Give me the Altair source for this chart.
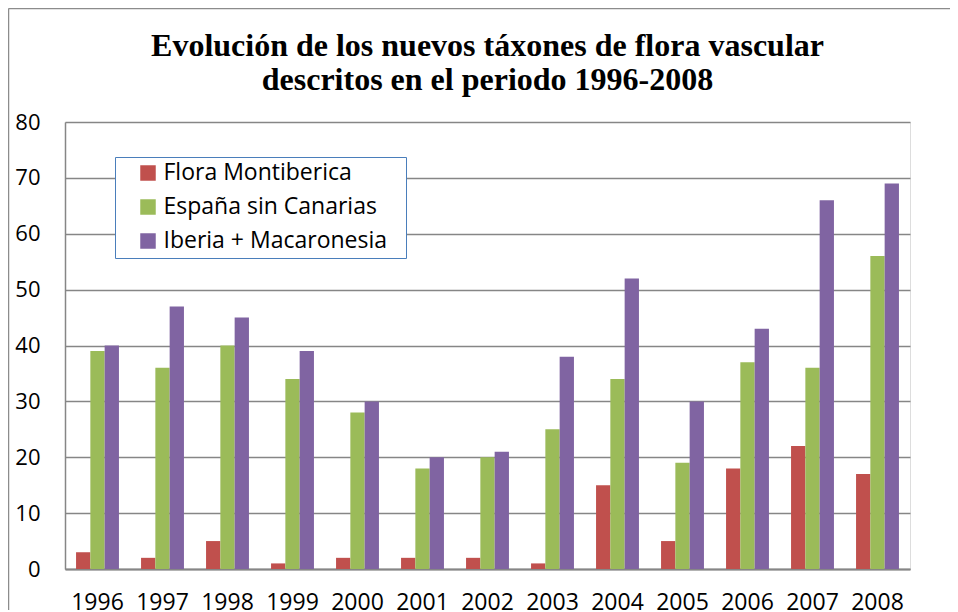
import altair as alt
import pandas as pd

years = ["1996", "1997", "1998", "1999", "2000", "2001", "2002",
         "2003", "2004", "2005", "2006", "2007", "2008"]
series = ["Flora Montiberica", "España sin Canarias", "Iberia + Macaronesia"]
flora = [3, 2, 5, 1, 2, 2, 2, 1, 15, 5, 18, 22, 17]
espana = [39, 36, 40, 34, 28, 18, 20, 25, 34, 19, 37, 36, 56]
iberia = [40, 47, 45, 39, 30, 20, 21, 38, 52, 30, 43, 66, 69]
colors = ["#c0504d", "#9bbb59", "#8064a2"]
y_ticks = [0, 10, 20, 30, 40, 50, 60, 70, 80]
title_lines = ["Evolución de los nuevos táxones de flora vascular",
               "descritos en el periodo 1996-2008"]

rows = []
for name, vals in zip(series, [flora, espana, iberia]):
    for yr, v in zip(years, vals):
        rows.append({"year": yr, "serie": name, "valor": v})
df = pd.DataFrame(rows)

GRID = "#868686"

bars = alt.Chart(df).mark_bar().encode(
    x=alt.X("year:N", sort=years,
            scale=alt.Scale(paddingInner=0.34, paddingOuter=0.17),
            axis=alt.Axis(title=None, labelAngle=0, ticks=False, tickSize=0,
                          labelFont="Open Sans", labelFontSize=23,
                          labelColor="black", labelBaseline="alphabetic",
                          labelPadding=40, domainColor=GRID, domainWidth=2,
                          grid=False)),
    xOffset=alt.XOffset("serie:N", sort=series,
                        scale=alt.Scale(paddingInner=0, paddingOuter=0)),
    y=alt.Y("valor:Q", scale=alt.Scale(domain=[0, 80], nice=False),
            axis=alt.Axis(title=None, values=y_ticks, ticks=False, tickSize=0,
                          labelFont="Open Sans", labelFontSize=22,
                          labelColor="black", labelPadding=25,
                          domainColor=GRID, domainWidth=1.5,
                          gridColor=GRID, gridWidth=1.5)),
    color=alt.Color("serie:N", sort=series,
                    scale=alt.Scale(domain=series, range=colors),
                    legend=alt.Legend(title="\u00a0", titleOrient="right",
                                      titleColor="white", titleFontSize=20,
                                      titlePadding=14,
                                      orient="none",
                                      legendX=50, legendY=35,
                                      symbolType="square", symbolSize=240,
                                      symbolStrokeWidth=0, symbolOffset=17,
                                      labelOffset=4, labelFont="Open Sans",
                                      labelFontSize=23, labelColor="black",
                                      labelLimit=600,
                                      rowPadding=10, padding=4.5,
                                      strokeColor="#4a7ebb",
                                      fillColor="white")),
)

border = alt.Chart(alt.Data(values=[{}])).mark_rule(color="#8c8c8c", strokeWidth=1.5)
left_border = border.encode(x=alt.value(-56.5), y=alt.value(-113.5), y2=alt.value(500))
top_border = border.encode(x=alt.value(-56.5), x2=alt.value(1000), y=alt.value(-113.5))

chart = alt.layer(bars, left_border, top_border).properties(
    width=845, height=447,
    title=alt.TitleParams(text=title_lines, font="Liberation Serif", fontSize=32,
                          fontWeight="bold", color="black", anchor="middle",
                          frame="group", baseline="alphabetic",
                          lineHeight=34, offset=0, dy=114),
    autosize=alt.AutoSizeParams(type="none"),
    padding={"left": 57, "top": 114, "right": 40, "bottom": 41},
).configure_view(stroke=None).configure(background="white")

chart.save("out.html", embed_options={"renderer": "svg", "actions": False})
